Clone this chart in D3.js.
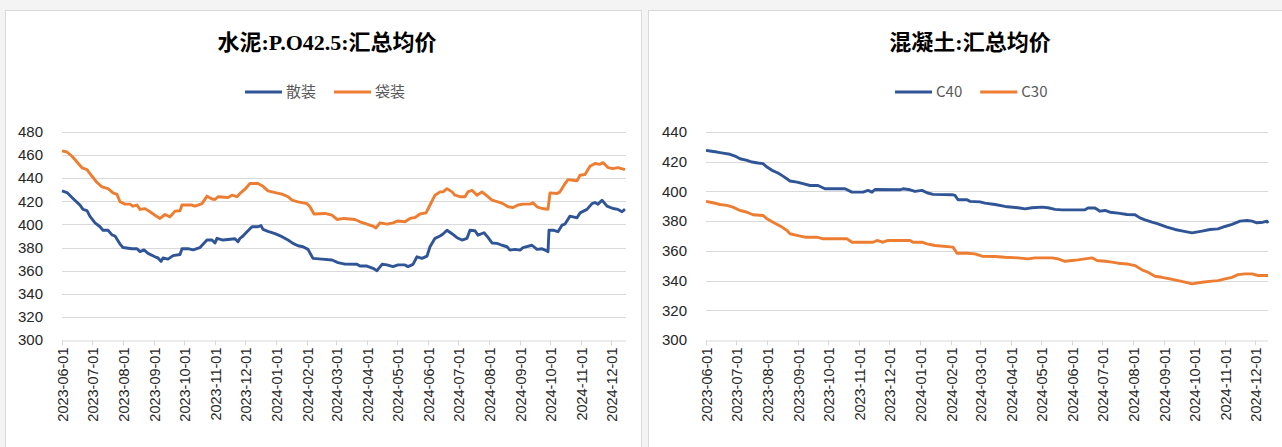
<!DOCTYPE html>
<html><head><meta charset="utf-8">
<script src="https://cdn.jsdelivr.net/npm/d3@7"></script>
<style>
html,body{margin:0;padding:0;background:#fff;}
svg{display:block;}
</style></head>
<body><svg id="c" width="1282" height="447"></svg>
<script>
// ---------------- DATA ----------------
const monthTicks = ["2023-06-01","2023-07-01","2023-08-01","2023-09-01","2023-10-01","2023-11-01","2023-12-01",
  "2024-01-01","2024-02-01","2024-03-01","2024-04-01","2024-05-01","2024-06-01","2024-07-01","2024-08-01",
  "2024-09-01","2024-10-01","2024-11-01","2024-12-01"];
const cementYTicks = [300,320,340,360,380,400,420,440,460,480];
const concreteYTicks = [300,320,340,360,380,400,420,440];

// 水泥 散装
const bulkDates = [
 "2023-06-01","2023-06-06","2023-06-12","2023-06-19","2023-06-22","2023-06-26","2023-06-29","2023-07-04","2023-07-09","2023-07-12",
 "2023-07-17","2023-07-21","2023-07-24","2023-07-29","2023-08-01","2023-08-10","2023-08-15","2023-08-18","2023-08-22","2023-08-26",
 "2023-09-02","2023-09-05","2023-09-08","2023-09-10","2023-09-15","2023-09-20","2023-09-27","2023-09-29","2023-10-05","2023-10-10",
 "2023-10-17","2023-10-24","2023-10-29","2023-11-01","2023-11-03","2023-11-09","2023-11-14","2023-11-21","2023-11-24","2023-11-26",
 "2023-11-29","2023-12-03","2023-12-08","2023-12-14","2023-12-17","2023-12-19","2023-12-24","2023-12-31","2024-01-07","2024-01-13",
 "2024-01-18","2024-01-23","2024-01-28","2024-02-02","2024-02-07","2024-02-16","2024-02-26","2024-03-03","2024-03-10","2024-03-22",
 "2024-03-25","2024-04-01","2024-04-07","2024-04-11","2024-04-16","2024-04-21","2024-04-27","2024-05-02","2024-05-09","2024-05-12",
 "2024-05-17","2024-05-21","2024-05-26","2024-05-31","2024-06-03","2024-06-08","2024-06-13","2024-06-16","2024-06-20","2024-06-25",
 "2024-06-30","2024-07-05","2024-07-10","2024-07-13","2024-07-18","2024-07-21","2024-07-27","2024-07-31","2024-08-04","2024-08-09",
 "2024-08-14","2024-08-19","2024-08-22","2024-08-27","2024-09-01","2024-09-04","2024-09-13","2024-09-18","2024-09-23","2024-09-26",
 "2024-09-29","2024-09-30","2024-10-04","2024-10-09","2024-10-13","2024-10-16","2024-10-21","2024-10-24","2024-10-28","2024-10-31",
 "2024-11-07","2024-11-12","2024-11-15","2024-11-18","2024-11-22","2024-11-27","2024-12-03","2024-12-08","2024-12-12","2024-12-15"];
const bulkValues = [
 429,427.6,422.4,416.7,413,412,407,401.4,398,395,
 395,391,390,383,380,379,379,376.5,378,375,
 372,371,368,371,370,373,374,379,379,378,
 380,386.5,386.5,384,388,386.5,387,387.6,385,388,
 390,393.7,398,398,399,395.7,394,392,389.4,386.5,
 383.6,381.6,380.7,378.4,370.6,370,369.2,367,365.7,365.5,
 364,364,362,360,365.5,365,363.5,365,365,363.5,
 365.5,372,370.6,372.6,380.7,388,390,391.7,395,392,
 388.5,386.5,388,395,394.5,390.7,392.8,388.8,384,383.6,
 382,380.7,377.8,378.4,377.8,380,382,378.4,379,377.8,
 376.4,395,395,393.7,399.4,400.3,407.2,406.6,405.8,410,
 413,418,419,417.5,421,415.8,413.8,413,411,413.2];

// 水泥 袋装
const bagDates = [
 "2023-06-01","2023-06-06","2023-06-11","2023-06-16","2023-06-21","2023-06-26","2023-07-01","2023-07-06","2023-07-11","2023-07-17",
 "2023-07-22","2023-07-26","2023-07-29","2023-08-03","2023-08-08","2023-08-11","2023-08-15","2023-08-18","2023-08-23","2023-08-28",
 "2023-09-02","2023-09-07","2023-09-12","2023-09-17","2023-09-22","2023-09-27","2023-09-29","2023-10-09","2023-10-12","2023-10-19",
 "2023-10-24","2023-10-29","2023-11-01","2023-11-04","2023-11-14","2023-11-18","2023-11-23","2023-11-26","2023-12-01","2023-12-06",
 "2023-12-14","2023-12-19","2023-12-24","2023-12-31","2024-01-07","2024-01-13","2024-01-17","2024-01-23","2024-02-01","2024-02-04",
 "2024-02-08","2024-02-19","2024-02-26","2024-03-02","2024-03-09","2024-03-20","2024-03-25","2024-04-01","2024-04-06","2024-04-10",
 "2024-04-14","2024-04-21","2024-04-27","2024-05-02","2024-05-09","2024-05-14","2024-05-19","2024-05-24","2024-05-30","2024-06-03",
 "2024-06-08","2024-06-13","2024-06-16","2024-06-20","2024-06-25","2024-06-28","2024-07-03","2024-07-08","2024-07-11","2024-07-15",
 "2024-07-20","2024-07-25","2024-07-30","2024-08-04","2024-08-10","2024-08-15","2024-08-20","2024-08-25","2024-08-30","2024-09-04",
 "2024-09-11","2024-09-14","2024-09-18","2024-09-23","2024-09-29","2024-10-01","2024-10-08","2024-10-11","2024-10-15","2024-10-19",
 "2024-10-24","2024-10-28","2024-10-31","2024-11-05","2024-11-10","2024-11-15","2024-11-20","2024-11-23","2024-11-28","2024-12-03",
 "2024-12-08","2024-12-15"];
const bagValues = [
 463.6,462.7,459,454,449,447.5,441.7,436.3,432.5,431,
 427.3,426,419.6,417.6,417.6,415.8,416.8,413,413.7,411,
 408,405.2,408.6,406.6,411.5,411.8,416.8,416.8,415.8,418,
 424.5,422,421.6,424,423.3,425.3,424,426.8,430.5,435.4,
 435.4,433,429,427.6,426.2,424,421,419.6,418,415.3,
 409,409.5,408,404.3,405.2,404.3,402.3,400.3,398.8,397,
 401.4,400.3,401.4,403,402.3,405.2,406,409,410,416.8,
 425.3,428.2,428.2,431,428.2,425.3,424,424,428.2,429.6,
 425.3,428.2,424.7,421,419.6,418,415.3,414.7,416.8,417.6,
 417.6,418.7,415.3,413.8,413.2,427.3,426.8,428.2,434,438.8,
 438.2,437.7,442.6,443.2,450.4,452.7,452,453.5,449.2,448.3,
 449.2,447.5];

// 混凝土 C40
const c40Dates = [
 "2023-06-01","2023-06-05","2023-06-12","2023-06-18","2023-06-25","2023-06-30","2023-07-05","2023-07-12","2023-07-17","2023-07-23",
 "2023-07-28","2023-08-01","2023-08-06","2023-08-12","2023-08-17","2023-08-24","2023-08-31","2023-09-06","2023-09-13","2023-09-21",
 "2023-09-28","2023-10-18","2023-10-25","2023-11-05","2023-11-10","2023-11-14","2023-11-17","2023-12-12","2023-12-15","2023-12-22",
 "2023-12-27","2024-01-03","2024-01-08","2024-01-14","2024-02-02","2024-02-05","2024-02-08","2024-02-17","2024-02-20","2024-03-01",
 "2024-03-06","2024-03-16","2024-03-26","2024-04-08","2024-04-15","2024-04-22","2024-05-02","2024-05-08","2024-05-15","2024-05-22",
 "2024-06-14","2024-06-17","2024-06-24","2024-06-29","2024-07-04","2024-07-09","2024-07-17","2024-07-26","2024-08-03","2024-08-08",
 "2024-08-13","2024-08-20","2024-08-26","2024-09-04","2024-09-12","2024-09-20","2024-09-29","2024-10-09","2024-10-17","2024-10-25",
 "2024-11-01","2024-11-08","2024-11-16","2024-11-23","2024-11-28","2024-12-03","2024-12-09","2024-12-13","2024-12-14"];
const c40Values = [
 427.6,427.2,426.5,425.8,425,423.8,422,420.9,419.8,419.1,
 418.7,416.4,414.2,412.4,410.3,407,406.3,405.2,404,404,
 401.8,401.8,399.5,399.5,400.7,399.5,401.3,401.1,401.8,401.1,
 400,400.7,399.1,398,397.8,397.3,394.4,394.4,393.3,393,
 392.1,391.2,389.9,389,388.3,389,389.4,389,387.9,387.6,
 387.6,388.8,388.8,386.7,387.2,386,385.4,384.5,384.3,382.2,
 380.9,379.3,378.2,376,374.4,373.3,372.1,373.3,374.4,374.8,
 376.4,377.8,380,380.4,380,378.9,379.3,380,378.7];

// 混凝土 C30
const c30Dates = [
 "2023-06-01","2023-06-08","2023-06-15","2023-06-22","2023-06-28","2023-07-05","2023-07-12","2023-07-18","2023-07-28","2023-08-01",
 "2023-08-07","2023-08-16","2023-08-21","2023-08-24","2023-09-01","2023-09-08","2023-09-20","2023-09-26","2023-10-20","2023-10-25",
 "2023-11-15","2023-11-19","2023-11-25","2023-11-30","2023-12-22","2023-12-25","2024-01-03","2024-01-08","2024-01-16","2024-02-03",
 "2024-02-07","2024-02-17","2024-02-25","2024-03-03","2024-03-16","2024-03-26","2024-04-08","2024-04-18","2024-04-25","2024-05-12",
 "2024-05-18","2024-05-25","2024-06-01","2024-06-07","2024-06-14","2024-06-21","2024-06-26","2024-07-04","2024-07-11","2024-07-17",
 "2024-07-26","2024-08-03","2024-08-10","2024-08-16","2024-08-23","2024-08-30","2024-09-07","2024-09-15","2024-09-22","2024-09-29",
 "2024-10-09","2024-10-19","2024-10-25","2024-11-01","2024-11-08","2024-11-14","2024-11-21","2024-11-28","2024-12-04","2024-12-14"];
const c30Values = [
 393.3,392.4,391.2,390.6,389.4,387.2,386,384.3,383.8,381.6,
 379.3,376,373.7,371.5,370.3,369.2,369.2,368.1,368.1,365.8,
 365.8,367,365.8,367,367,365.8,365.8,364.7,363.6,362.5,
 358.4,358.4,358,356.4,356.2,355.7,355.3,354.6,355.3,355.3,
 354.6,353,353.5,353.9,354.6,355.3,353.5,353,352.4,351.7,
 351.2,350.1,347.2,345.6,342.9,342.2,341.1,340,338.9,337.8,
 338.9,339.6,340,341.1,342.2,344,344.5,344.5,343.4,343.4];

// ---------------- DRAW ----------------
const parse = d3.timeParse("%Y-%m-%d");
const fmt = d3.timeFormat("%Y-%m-%d");
const svg = d3.select("#c");
const BLUE = "#2F5597", ORANGE = "#ED7D31";
const GRID = "#d9d9d9";

// background gap + panels
svg.append("rect").attr("x",0).attr("y",0).attr("width",1282).attr("height",447).attr("fill","#f4f4f4");
svg.append("rect").attr("x",5.5).attr("y",10.5).attr("width",636).attr("height",445).attr("fill","#fff").attr("stroke",GRID);
svg.append("rect").attr("x",648.5).attr("y",10.5).attr("width",640).attr("height",445).attr("fill","#fff").attr("stroke",GRID);

function panel(o){
  const g = svg.append("g");
  const x = d3.scaleTime().domain([parse(o.xStart), parse(o.xEnd)]).range([o.x0, o.x1]);
  const y = d3.scaleLinear().domain([o.yTicks[0], o.yTicks[o.yTicks.length-1]]).range([340, 132]);

  // grid
  g.append("g").selectAll("line").data(o.yTicks.slice(1)).join("line")
    .attr("x1", o.x0).attr("x2", o.x1)
    .attr("y1", d => Math.round(y(d))+0.5).attr("y2", d => Math.round(y(d))+0.5)
    .attr("stroke", GRID).attr("stroke-width",1.2);

  // y labels
  g.append("g").selectAll("text").data(o.yTicks).join("text")
    .attr("x", o.x0 - 19).attr("y", d => y(d)).attr("dy","0.35em")
    .attr("text-anchor","end").attr("font-family","'Liberation Sans', Arial, sans-serif")
    .attr("font-size",15).attr("fill","#262626").text(d => d);

  // x axis
  const xa = d3.axisBottom(x).tickValues(monthTicks.map(parse)).tickSize(5).tickFormat(fmt);
  const ax = g.append("g").attr("transform","translate(0,340.5)").call(xa);
  ax.select(".domain").attr("stroke", GRID).attr("stroke-width",1.2).attr("d", `M${o.x0},0.5H${o.x1}`);
  ax.selectAll(".tick line").attr("stroke", GRID);
  ax.selectAll(".tick text")
    .attr("font-family","'Liberation Sans', Arial, sans-serif").attr("font-size",14.5).attr("fill","#262626")
    .attr("text-anchor","end").attr("transform","rotate(-90)")
    .attr("x",-7).attr("y",0).attr("dy","0.35em");

  // lines
  const line = d3.line().x(d => x(d[0])).y(d => y(d[1]));
  o.series.forEach(s => {
    const pts = s.dates.map((d,i) => [parse(d), s.values[i]]);
    g.append("path").datum(pts).attr("d", line).attr("fill","none")
      .attr("stroke", s.color).attr("stroke-width", 2.9).attr("stroke-linejoin","round");
  });

  // title
  g.append("text").attr("x", o.titleX).attr("y", 50).attr("text-anchor","middle")
    .attr("font-family","'Liberation Serif','Noto Sans CJK SC',serif").attr("font-weight","bold")
    .attr("font-size",22).attr("fill","#000").text(o.title);

  // legend
  let lx = o.legendX;
  o.series.forEach(s => {
    g.append("line").attr("x1", lx).attr("x2", lx+37).attr("y1",92).attr("y2",92)
      .attr("stroke", s.color).attr("stroke-width",2.9);
    const t = g.append("text").attr("x", lx+41).attr("y",92).attr("dy","0.35em")
      .attr("font-family","'Noto Sans CJK SC','Liberation Sans',sans-serif").attr("font-size",15)
      .attr("fill","#595959").text(s.name);
    lx += 41 + t.node().getComputedTextLength() + 18;
  });
}

panel({x0:62, x1:626, xStart:"2023-06-01", xEnd:"2024-12-16", yTicks:cementYTicks,
  title:"水泥:P.O42.5:汇总均价", titleX:327, legendX:245,
  series:[{name:"散装", dates:bulkDates, values:bulkValues, color:BLUE},
          {name:"袋装", dates:bagDates, values:bagValues, color:ORANGE}]});

panel({x0:706, x1:1268, xStart:"2023-06-01", xEnd:"2024-12-14", yTicks:concreteYTicks,
  title:"混凝土:汇总均价", titleX:970, legendX:895,
  series:[{name:"C40", dates:c40Dates, values:c40Values, color:BLUE},
          {name:"C30", dates:c30Dates, values:c30Values, color:ORANGE}]});
</script></body></html>
